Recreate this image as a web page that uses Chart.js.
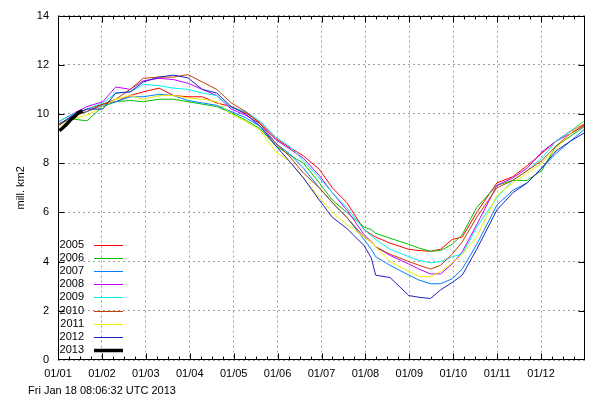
<!DOCTYPE html>
<html>
<head>
<meta charset="utf-8">
<script src="https://cdn.jsdelivr.net/npm/chart.js@4/dist/chart.umd.min.js"></script>
<style>body{margin:0;background:#fff}</style>
</head>
<body>
<canvas id="grafico" width="600" height="400"></canvas>
<script>
// day of year for the sampled points
const days = [1, 10, 20, 31, 40, 50, 59, 70, 80, 90, 100, 110, 120, 130, 140, 151, 160, 170, 181, 190, 200, 212, 217, 220, 230, 243, 250, 258, 265, 273, 280, 290, 304, 315, 325, 335, 345, 355, 365];

const years = ['2005', '2006', '2007', '2008', '2009', '2010', '2011', '2012'];

const ext2005 = [9.6, 9.9, 10.2, 10.4, 10.5, 10.75, 10.9, 11.05, 10.75, 10.7, 10.7, 10.45, 10.3, 10.05, 9.65, 9.0, 8.65, 8.3, 7.75, 7.0, 6.4, 5.3, 5.1, 5.0, 4.75, 4.5, 4.45, 4.42, 4.5, 4.9, 5.0, 6.0, 7.2, 7.45, 7.9, 8.4, 8.9, 9.3, 9.6];
const ext2006 = [9.6, 9.8, 9.72, 10.3, 10.5, 10.55, 10.5, 10.6, 10.6, 10.5, 10.4, 10.3, 10.05, 9.75, 9.4, 8.7, 8.35, 8.0, 7.2, 6.5, 6.0, 5.4, 5.3, 5.15, 4.95, 4.7, 4.55, 4.42, 4.45, 4.7, 5.1, 6.2, 7.1, 7.3, 7.3, 7.7, 8.7, 9.1, 9.5];
const ext2007 = [9.6, 9.9, 10.1, 10.35, 10.5, 10.7, 10.7, 10.8, 10.75, 10.55, 10.45, 10.35, 10.1, 9.85, 9.5, 8.8, 8.4, 7.8, 7.0, 6.4, 5.8, 4.9, 4.5, 4.2, 3.85, 3.45, 3.25, 3.1, 3.1, 3.3, 3.7, 4.7, 6.3, 6.9, 7.2, 7.8, 8.4, 8.9, 9.4];
const ext2008 = [9.7, 10.0, 10.3, 10.5, 11.1, 11.0, 11.35, 11.45, 11.4, 11.25, 11.0, 10.75, 10.2, 9.95, 9.6, 8.95, 8.6, 8.2, 7.5, 6.8, 6.1, 5.1, 4.8, 4.6, 4.25, 3.9, 3.7, 3.5, 3.5, 3.9, 4.4, 5.5, 7.1, 7.4, 7.8, 8.45, 8.9, 9.2, 9.55];
const ext2009 = [9.7, 10.0, 10.2, 10.45, 10.85, 10.9, 11.2, 11.15, 11.05, 11.0, 10.85, 10.75, 10.25, 10.1, 9.7, 9.05, 8.7, 8.1, 7.4, 6.8, 6.2, 5.3, 5.05, 4.9, 4.5, 4.2, 4.05, 3.95, 4.0, 4.2, 4.3, 5.4, 6.6, 7.3, 7.7, 8.2, 8.9, 9.3, 9.75];
const ext2010 = [9.6, 9.9, 10.1, 10.4, 10.6, 11.0, 11.45, 11.5, 11.5, 11.6, 11.3, 11.0, 10.45, 10.1, 9.6, 8.8, 8.3, 7.6, 7.0, 6.4, 5.8, 5.0, 4.8, 4.6, 4.3, 4.0, 3.85, 3.7, 3.85, 4.3, 4.8, 5.8, 7.0, 7.3, 7.7, 8.1, 8.7, 9.2, 9.55];
const ext2011 = [9.5, 9.8, 9.95, 10.3, 10.6, 10.75, 10.6, 10.75, 10.75, 10.65, 10.6, 10.5, 10.0, 9.7, 9.35, 8.45, 8.1, 7.4, 6.6, 6.0, 5.5, 5.0, 4.8, 4.6, 4.0, 3.6, 3.4, 3.38, 3.6, 3.95, 4.3, 5.0, 6.7, 7.2, 7.6, 8.0, 8.6, 9.2, 9.75];
const ext2012 = [9.55, 9.95, 10.2, 10.2, 10.85, 10.9, 11.3, 11.5, 11.58, 11.47, 11.0, 10.85, 10.3, 10.0, 9.5, 8.7, 8.1, 7.4, 6.5, 5.8, 5.35, 4.65, 4.15, 3.45, 3.35, 2.62, 2.55, 2.5, 2.85, 3.15, 3.45, 4.5, 6.1, 6.8, 7.2, 7.8, 8.5, 8.9, 9.25];

// current year, only the first weeks
const days2013 = [1, 3, 6, 9, 12, 14, 17];
const ext2013 = [9.32, 9.42, 9.58, 9.78, 9.92, 10.05, 10.13];

const monthLabels = ['01/01', '01/02', '01/03', '01/04', '01/05', '01/06', '01/07', '01/08', '01/09', '01/10', '01/11', '01/12'];
const yTicks = [0, 2, 4, 6, 8, 10, 12, 14];

const colors = ['#ff0000', '#00c000', '#0080ff', '#c000ff', '#00eeee', '#c04000', '#eeee00', '#2020c0'];
const series = [ext2005, ext2006, ext2007, ext2008, ext2009, ext2010, ext2011, ext2012];

const fonte = "'Liberation Sans', Arial, sans-serif";
Chart.defaults.font.family = fonte;
Chart.defaults.font.size = 11;
Chart.defaults.color = '#000';

const datasets = years.map((ano, i) => ({
    label: ano,
    data: days.map((d, j) => ({ x: d, y: series[i][j] })),
    borderColor: colors[i],
    borderWidth: 1,
    pointRadius: 0,
    tension: 0,
    fill: false,
    order: years.length + 1 - i
}));
datasets.push({
    label: '2013',
    data: days2013.map((d, j) => ({ x: d, y: ext2013[j] })),
    borderColor: '#000000',
    borderWidth: 3.5,
    pointRadius: 0,
    tension: 0,
    fill: false,
    order: 0
});

// box, inward tics, legend inside the plot and the date line under it
const moldura = {
    id: 'moldura',
    afterDraw(chart) {
        const { ctx, chartArea: a, scales: { x, y } } = chart;
        ctx.save();
        ctx.strokeStyle = '#000';
        ctx.lineWidth = 1;
        const L = Math.round(a.left) + 0.5, R = Math.round(a.right) - 0.5;
        const T = Math.round(a.top) + 0.5, B = Math.round(a.bottom) - 0.5;
        ctx.strokeRect(L, T, R - L, B - T);

        ctx.beginPath();
        for (let i = 1; i < 48; i++) {
            const px = Math.round(x.getPixelForValue(i * 365 / 48)) + 0.5;
            const len = i % 4 === 0 ? 6 : 3;
            ctx.moveTo(px, B); ctx.lineTo(px, B - len);
            ctx.moveTo(px, T); ctx.lineTo(px, T + len);
        }
        yTicks.slice(1, -1).forEach(v => {
            const py = Math.round(y.getPixelForValue(v)) + 0.5;
            ctx.moveTo(L, py); ctx.lineTo(L + 6, py);
            ctx.moveTo(R, py); ctx.lineTo(R - 6, py);
        });
        ctx.stroke();

        ctx.font = '11px ' + fonte;
        ctx.fillStyle = '#000';
        ctx.textBaseline = 'middle';
        chart.data.datasets.forEach((ds, i) => {
            const ly = 245 + i * 13.1;
            ctx.textAlign = 'right';
            ctx.fillText(ds.label, 84, ly);
            ctx.beginPath();
            ctx.strokeStyle = ds.borderColor;
            ctx.lineWidth = ds.borderWidth;
            ctx.moveTo(94, Math.round(ly) + 0.5);
            ctx.lineTo(123, Math.round(ly) + 0.5);
            ctx.stroke();
        });

        ctx.textAlign = 'left';
        ctx.fillText('Fri Jan 18 08:06:32 UTC 2013', 28, 391);
        ctx.restore();
    }
};

const grafico = document.getElementById('grafico');

new Chart(grafico, {
    type: 'line',
    data: { datasets: datasets },
    options: {
        responsive: false,
        animation: false,
        devicePixelRatio: 1,
        layout: { padding: { top: 12, right: 15, left: 0, bottom: 0 } },
        plugins: { legend: { display: false }, tooltip: { enabled: false } },
        scales: {
            x: {
                type: 'linear',
                min: 0,
                max: 365,
                afterBuildTicks: scale => {
                    scale.ticks = monthLabels.map((l, i) => ({ value: i * 365 / 12 }));
                },
                afterFit: scale => { scale.height = 40; },
                ticks: {
                    autoSkip: false,
                    maxRotation: 0,
                    padding: 7,
                    callback: (value, index) => monthLabels[index]
                },
                grid: { color: '#a0a0a0', lineWidth: 1, drawTicks: false },
                border: { display: false, dash: [2, 3] }
            },
            y: {
                min: 0,
                max: 14,
                afterBuildTicks: scale => {
                    scale.ticks = yTicks.map(v => ({ value: v }));
                },
                afterFit: scale => { scale.width = 58; },
                ticks: { padding: 9 },
                title: { display: true, text: 'mill. km2', padding: { top: 14, bottom: 0 } },
                grid: { color: '#a0a0a0', lineWidth: 1, drawTicks: false },
                border: { display: false, dash: [2, 3] }
            }
        }
    },
    plugins: [moldura]
});
</script>
</body>
</html>
